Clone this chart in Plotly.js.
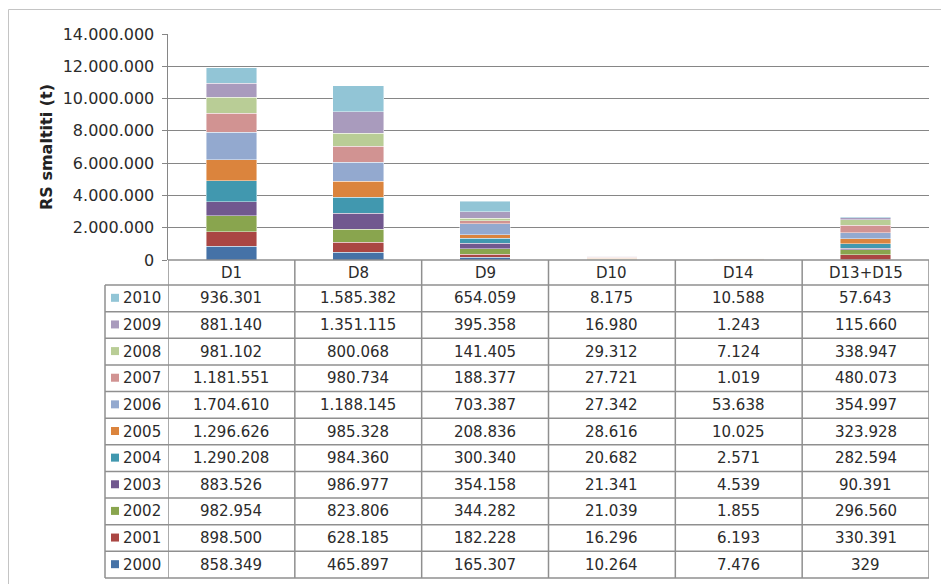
<!DOCTYPE html>
<html>
<head>
<meta charset="utf-8">
<script src="https://cdn.plot.ly/plotly-3.0.1.min.js"></script>
<style>html,body{margin:0;padding:0;background:#fff;}#chart{width:941px;height:584px;}</style>
</head>
<body>
<div id="chart"></div>
<script>
// ---- Data ----
const categories = ["D1", "D8", "D9", "D10", "D14", "D13+D15"];
const years = ["2000","2001","2002","2003","2004","2005","2006","2007","2008","2009","2010"];
const v2000 = [858349, 465897, 165307, 10264, 7476, 329];
const v2001 = [898500, 628185, 182228, 16296, 6193, 330391];
const v2002 = [982954, 823806, 344282, 21039, 1855, 296560];
const v2003 = [883526, 986977, 354158, 21341, 4539, 90391];
const v2004 = [1290208, 984360, 300340, 20682, 2571, 282594];
const v2005 = [1296626, 985328, 208836, 28616, 10025, 323928];
const v2006 = [1704610, 1188145, 703387, 27342, 53638, 354997];
const v2007 = [1181551, 980734, 188377, 27721, 1019, 480073];
const v2008 = [981102, 800068, 141405, 29312, 7124, 338947];
const v2009 = [881140, 1351115, 395358, 16980, 1243, 115660];
const v2010 = [936301, 1585382, 654059, 8175, 10588, 57643];
const seriesValues = [v2000, v2001, v2002, v2003, v2004, v2005, v2006, v2007, v2008, v2009, v2010];
const colors = ["#4572A7","#AA4643","#89A54E","#71588F","#4198AF","#DB843D","#93A9CF","#D19392","#B9CD96","#A99BBD","#92C5D6"];
const yTitle = "RS smaltiti (t)";

// ---- Layout helpers (pixel -> paper) ----
const W = 941, H = 584;
const X = px => px / W;
const Y = py => 1 - py / H;
const plotL = 168, plotR = 929, plotT = 34, plotB = 260;
const tblTop = 285, tblBot = 578, legL = 105;
const rowH = (tblBot - tblTop) / years.length;
const fontFam = "DejaVu Sans, Verdana, sans-serif";
const txtCol = "#2b2b2b";
const lineCol = "#8f8f8f";

function fmt(v) { return String(v).replace(/\B(?=(\d{3})+(?!\d))/g, "."); }

const traces = years.map((yr, i) => ({
  type: "bar",
  name: yr,
  x: categories,
  y: seriesValues[i],
  marker: { color: colors[i], line: { color: "rgba(255,255,255,0.55)", width: 0.8 } },
  hoverinfo: "skip"
}));

const shapes = [];
const annotations = [];

// outer chart border
shapes.push({ type: "rect", xref: "paper", yref: "paper", x0: X(8.5), x1: X(960), y0: Y(9.5), y1: Y(600),
  line: { color: "#c4c4c4", width: 1 }, fillcolor: "rgba(0,0,0,0)", layer: "below" });

// column separators (header + table)
for (let i = 0; i <= categories.length; i++) {
  shapes.push({ type: "line", xref: "x", yref: "paper", x0: i - 0.5, x1: i - 0.5, y0: Y(plotB), y1: Y(tblBot),
    line: { color: lineCol, width: 1.5 } });
}
// legend column left border
shapes.push({ type: "line", xref: "paper", yref: "paper", x0: X(legL), x1: X(legL), y0: Y(tblTop), y1: Y(tblBot),
  line: { color: lineCol, width: 1.5 } });
// header line at axis
shapes.push({ type: "line", xref: "paper", yref: "paper", x0: X(plotL), x1: X(plotR), y0: Y(plotB), y1: Y(plotB),
  line: { color: lineCol, width: 1.5 } });
// row lines
for (let r = 0; r <= years.length; r++) {
  const py = tblTop + r * rowH;
  shapes.push({ type: "line", xref: "paper", yref: "paper", x0: X(legL), x1: X(plotR), y0: Y(py), y1: Y(py),
    line: { color: lineCol, width: 1.5 } });
}

// header labels
categories.forEach((c, j) => {
  annotations.push({ xref: "x", yref: "paper", x: j, y: Y((plotB + tblTop) / 2), text: c, showarrow: false,
    xanchor: "center", yanchor: "middle", font: { family: fontFam, size: 15, color: txtCol } });
});

// table rows: top row = latest year
for (let r = 0; r < years.length; r++) {
  const si = years.length - 1 - r;
  const cy = tblTop + (r + 0.5) * rowH;
  shapes.push({ type: "rect", xref: "paper", yref: "paper", x0: X(111), x1: X(119), y0: Y(cy - 4.5), y1: Y(cy + 3.5),
    line: { width: 0 }, fillcolor: colors[si] });
  annotations.push({ xref: "paper", yref: "paper", x: X(121), y: Y(cy), text: years[si], showarrow: false,
    xanchor: "left", yanchor: "middle", font: { family: fontFam, size: 15, color: txtCol } });
  seriesValues[si].forEach((v, j) => {
    annotations.push({ xref: "x", yref: "paper", x: j, y: Y(cy), text: fmt(v), showarrow: false,
      xanchor: "center", yanchor: "middle", font: { family: fontFam, size: 15, color: txtCol } });
  });
}

// y axis title
annotations.push({ xref: "paper", yref: "paper", x: X(47), y: Y((plotT + plotB) / 2), text: "<b>" + yTitle + "</b>",
  textangle: -90, showarrow: false, xanchor: "center", yanchor: "middle",
  font: { family: fontFam, size: 16, color: "#222" } });

const layout = {
  width: W, height: H,
  margin: { l: 0, r: 0, t: 0, b: 0, autoexpand: false },
  paper_bgcolor: "#fff", plot_bgcolor: "#fff",
  separators: ",.",
  barmode: "stack",
  bargap: 0.6,
  showlegend: false,
  font: { family: fontFam, size: 15, color: txtCol },
  xaxis: {
    domain: [X(plotL), X(plotR)],
    type: "category",
    range: [-0.5, categories.length - 0.5],
    showticklabels: false, ticks: "", showgrid: false, zeroline: false, showline: false, fixedrange: true
  },
  yaxis: {
    domain: [Y(plotB), Y(plotT)],
    range: [0, 14000000],
    dtick: 2000000,
    tickformat: ",d",
    ticks: "outside", ticklen: 5, tickcolor: "#868686",
    showgrid: true, gridcolor: "#868686", gridwidth: 1,
    showline: true, linecolor: "#868686", linewidth: 1.5,
    zeroline: false,
    tickfont: { family: fontFam, size: 16, color: txtCol },
    ticklabelstandoff: 4,
    fixedrange: true
  },
  shapes: shapes,
  annotations: annotations
};

Plotly.newPlot("chart", traces, layout, { displayModeBar: false, staticPlot: true });
</script>
</body>
</html>
